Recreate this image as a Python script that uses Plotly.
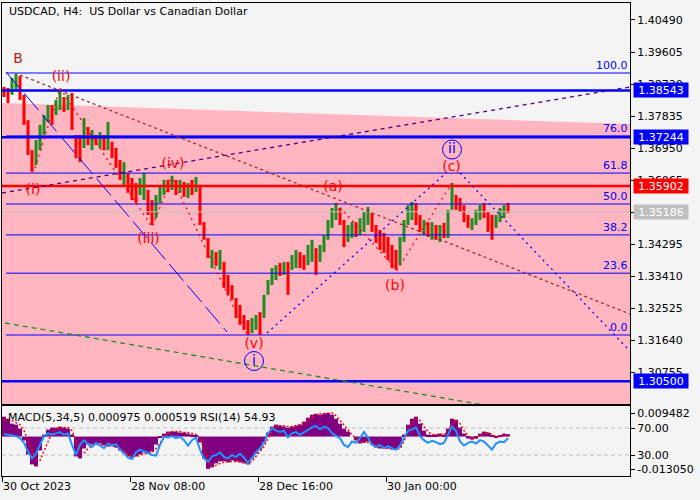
import plotly.graph_objects as go

# ---------------- data ----------------
time_ticks = [0, 128, 256, 384]
time_labels = ["30 Oct 2023", "28 Nov 08:00", "28 Dec 16:00", "30 Jan 00:00"]
price_ticks = [1.40490, 1.39605, 1.38720, 1.37835, 1.36950, 1.36065, 1.35180,
               1.34295, 1.33410, 1.32525, 1.31640, 1.30755]

first_open = 1.3861
high = [1.3864, 1.3861, 1.3889, 1.3900, 1.3894, 1.3842, 1.3772, 1.3689, 1.3717, 1.3759,
        1.3786, 1.3814, 1.3814, 1.3828, 1.3855, 1.3836, 1.3842, 1.3847, 1.3731, 1.3731,
        1.3778, 1.3753, 1.3745, 1.3731, 1.3739, 1.3731, 1.3767, 1.3712, 1.3695, 1.3662,
        1.3656, 1.3626, 1.3612, 1.3598, 1.3612, 1.3626, 1.3579, 1.3551, 1.3565, 1.3587,
        1.3607, 1.3607, 1.3618, 1.3607, 1.3607, 1.3601, 1.3598, 1.3607, 1.3615, 1.3593,
        1.3490, 1.3446, 1.3413, 1.3407, 1.3413, 1.3380, 1.3344, 1.3316, 1.3280, 1.3261,
        1.3233, 1.3219, 1.3225, 1.3233, 1.3241, 1.3289, 1.3330, 1.3363, 1.3371, 1.3377,
        1.3380, 1.3380, 1.3399, 1.3413, 1.3407, 1.3399, 1.3427, 1.3441, 1.3418, 1.3427,
        1.3454, 1.3496, 1.3529, 1.3543, 1.3529, 1.3496, 1.3482, 1.3490, 1.3490, 1.3501,
        1.3518, 1.3532, 1.3515, 1.3482, 1.3468, 1.3460, 1.3449, 1.3427, 1.3413, 1.3449,
        1.3496, 1.3537, 1.3546, 1.3543, 1.3510, 1.3496, 1.3490, 1.3490, 1.3482, 1.3482,
        1.3488, 1.3524, 1.3598, 1.3565, 1.3557, 1.3537, 1.3510, 1.3501, 1.3524, 1.3537,
        1.3543, 1.3518, 1.3510, 1.3510, 1.3529, 1.3537, 1.3543]
low = [1.3836, 1.3819, 1.3842, 1.3855, 1.3828, 1.3759, 1.3676, 1.3629, 1.3648, 1.3689,
       1.3731, 1.3767, 1.3759, 1.3786, 1.3800, 1.3795, 1.3800, 1.3745, 1.3667, 1.3656,
       1.3695, 1.3703, 1.3689, 1.3703, 1.3695, 1.3689, 1.3689, 1.3667, 1.3640, 1.3607,
       1.3593, 1.3571, 1.3551, 1.3543, 1.3565, 1.3551, 1.3510, 1.3482, 1.3501, 1.3543,
       1.3565, 1.3573, 1.3579, 1.3565, 1.3571, 1.3560, 1.3557, 1.3565, 1.3573, 1.3482,
       1.3441, 1.3391, 1.3363, 1.3369, 1.3358, 1.3308, 1.3289, 1.3275, 1.3225, 1.3206,
       1.3192, 1.3178, 1.3183, 1.3192, 1.3178, 1.3225, 1.3289, 1.3316, 1.3330, 1.3341,
       1.3344, 1.3289, 1.3358, 1.3363, 1.3363, 1.3358, 1.3371, 1.3380, 1.3344, 1.3380,
       1.3407, 1.3441, 1.3474, 1.3496, 1.3482, 1.3421, 1.3435, 1.3446, 1.3449, 1.3454,
       1.3463, 1.3482, 1.3463, 1.3432, 1.3413, 1.3405, 1.3385, 1.3363, 1.3358, 1.3371,
       1.3435, 1.3482, 1.3496, 1.3482, 1.3463, 1.3454, 1.3449, 1.3441, 1.3441, 1.3435,
       1.3446, 1.3446, 1.3524, 1.3524, 1.3518, 1.3490, 1.3474, 1.3468, 1.3482, 1.3496,
       1.3501, 1.3463, 1.3441, 1.3474, 1.3490, 1.3501, 1.3515]
close = [1.3842, 1.3828, 1.3883, 1.3894, 1.3836, 1.3767, 1.3684, 1.3640, 1.3709, 1.3750,
         1.3778, 1.3806, 1.3772, 1.3819, 1.3842, 1.3806, 1.3833, 1.3753, 1.3676, 1.3667,
         1.3767, 1.3712, 1.3736, 1.3709, 1.3731, 1.3698, 1.3717, 1.3676, 1.3648, 1.3615,
         1.3648, 1.3579, 1.3560, 1.3551, 1.3604, 1.3618, 1.3518, 1.3490, 1.3557, 1.3579,
         1.3598, 1.3579, 1.3612, 1.3573, 1.3601, 1.3565, 1.3593, 1.3571, 1.3607, 1.3490,
         1.3449, 1.3399, 1.3407, 1.3377, 1.3405, 1.3316, 1.3297, 1.3280, 1.3233, 1.3214,
         1.3200, 1.3186, 1.3219, 1.3228, 1.3219, 1.3280, 1.3322, 1.3355, 1.3363, 1.3346,
         1.3374, 1.3352, 1.3391, 1.3405, 1.3371, 1.3363, 1.3418, 1.3432, 1.3391, 1.3418,
         1.3446, 1.3488, 1.3521, 1.3535, 1.3490, 1.3430, 1.3441, 1.3482, 1.3457, 1.3493,
         1.3510, 1.3524, 1.3471, 1.3441, 1.3421, 1.3413, 1.3393, 1.3371, 1.3366, 1.3441,
         1.3488, 1.3529, 1.3537, 1.3490, 1.3471, 1.3490, 1.3457, 1.3482, 1.3449, 1.3474,
         1.3454, 1.3515, 1.3584, 1.3532, 1.3524, 1.3496, 1.3479, 1.3496, 1.3518, 1.3532,
         1.3507, 1.3471, 1.3463, 1.3501, 1.3524, 1.3532, 1.3519]

macd = [0.0080, 0.0072, 0.0052, 0.0048, 0.0032, -0.0016, -0.0072, -0.0112, -0.0120, -0.0056,
        0.0008, 0.0028, 0.0036, 0.0036, 0.0040, 0.0036, 0.0032, 0.0008, -0.0080, -0.0088,
        -0.0048, -0.0028, -0.0032, -0.0032, -0.0028, -0.0036, -0.0040, -0.0032, -0.0044, -0.0056,
        -0.0068, -0.0080, -0.0084, -0.0080, -0.0072, -0.0064, -0.0068, -0.0060, -0.0032, -0.0004,
        0.0012, 0.0020, 0.0020, 0.0020, 0.0016, 0.0016, 0.0012, 0.0008, 0.0004, -0.0024,
        -0.0088, -0.0130, -0.0124, -0.0108, -0.0100, -0.0100, -0.0104, -0.0096, -0.0100, -0.0104,
        -0.0108, -0.0112, -0.0088, -0.0068, -0.0052, -0.0024, 0.0016, 0.0040, 0.0048, 0.0044,
        0.0040, 0.0036, 0.0040, 0.0044, 0.0048, 0.0060, 0.0076, 0.0088, 0.0092, 0.0088,
        0.0092, 0.0095, 0.0088, 0.0072, 0.0052, 0.0032, 0.0020, 0.0000, -0.0016, -0.0028,
        -0.0024, -0.0020, -0.0032, -0.0044, -0.0048, -0.0044, -0.0048, -0.0052, -0.0052, -0.0044,
        0.0008, 0.0048, 0.0072, 0.0080, 0.0052, 0.0024, 0.0008, 0.0004, 0.0008, 0.0012,
        0.0008, 0.0032, 0.0072, 0.0068, 0.0036, 0.0012, -0.0008, -0.0012, -0.0008, 0.0012,
        0.0020, 0.0016, 0.0004, -0.0004, 0.0004, 0.0012, 0.000975]
signal = [0.0064, 0.0068, 0.0064, 0.0056, 0.0048, 0.0024, -0.0016, -0.0056, -0.0096, -0.0096,
          -0.0056, -0.0016, 0.0016, 0.0032, 0.0036, 0.0036, 0.0036, 0.0024, -0.0016, -0.0056,
          -0.0068, -0.0048, -0.0036, -0.0032, -0.0032, -0.0032, -0.0036, -0.0036, -0.0040, -0.0048,
          -0.0060, -0.0072, -0.0080, -0.0080, -0.0076, -0.0068, -0.0068, -0.0064, -0.0048, -0.0024,
          -0.0004, 0.0012, 0.0020, 0.0020, 0.0020, 0.0016, 0.0016, 0.0012, 0.0008, -0.0008,
          -0.0048, -0.0096, -0.0120, -0.0116, -0.0108, -0.0104, -0.0100, -0.0100, -0.0100, -0.0100,
          -0.0104, -0.0108, -0.0100, -0.0080, -0.0060, -0.0040, -0.0008, 0.0020, 0.0040, 0.0044,
          0.0044, 0.0040, 0.0040, 0.0044, 0.0048, 0.0052, 0.0064, 0.0076, 0.0088, 0.0092,
          0.0092, 0.0095, 0.0095, 0.0084, 0.0064, 0.0044, 0.0024, 0.0008, -0.0008, -0.0020,
          -0.0024, -0.0024, -0.0028, -0.0036, -0.0044, -0.0044, -0.0048, -0.0048, -0.0052, -0.0048,
          -0.0020, 0.0020, 0.0052, 0.0072, 0.0064, 0.0040, 0.0020, 0.0008, 0.0008, 0.0008,
          0.0008, 0.0020, 0.0052, 0.0068, 0.0052, 0.0024, 0.0004, -0.0008, -0.0008, 0.0004,
          0.0012, 0.0016, 0.0008, 0.0000, 0.0000, 0.0004, 0.000519]
rsi = [61, 60, 58, 58, 55, 48, 35, 25, 32, 45,
       58, 62, 60, 62, 64, 60, 62, 45, 30, 45,
       52, 46, 42, 48, 44, 40, 47, 44, 46, 38,
       33, 26, 24, 34, 38, 36, 33, 30, 29, 45,
       57, 56, 58, 55, 57, 52, 44, 52, 56, 38,
       25, 20, 28, 30, 34, 27, 25, 30, 27, 32,
       26, 18, 26, 34, 40, 48, 62, 70, 66, 64,
       66, 56, 62, 64, 60, 64, 68, 71, 73, 68,
       72, 70, 62, 58, 55, 45, 42, 50, 48, 55,
       64, 56, 45, 42, 45, 40, 43, 40, 38, 44,
       55, 66, 68, 71, 58, 52, 48, 51, 49, 46,
       48, 60, 72, 66, 50, 44, 48, 50, 47, 52,
       50, 44, 38, 47, 50, 49, 54.93]
rsi_levels = [70, 30]
macd_scale_labels = [0.009482, -0.013050]

fib_high = 1.39024
fib_low = 1.31778
fib_levels = [100.0, 76.0, 61.8, 50.0, 38.2, 23.6, 0.0]
blue_levels = [1.38543, 1.37244, 1.30500]
red_levels = [1.35902]
last_price = 1.35186

zone_x = [0, 628]
zone_top = [1.38194, 1.37614]
zone_bottom = 1.2900

impulse_channel_x = [4, 225]
impulse_channel_p = [1.39052, 1.31861]
rise_line_x = [265, 445]
rise_line_p = [1.31834, 1.36286]
target_line_x = [458, 625]
target_line_p = [1.36259, 1.31419]
brown_line_x = [18, 628]
brown_line_p = [1.38969, 1.32359]
purple_line_x = [0, 628]
purple_line_p = [1.35705, 1.38637]
green_line_x = [3, 628]
green_line_p = [1.32110, 1.29151]
impulse_path_x = [33, 58, 150, 170, 244]
impulse_path_p = [1.36397, 1.38609, 1.34765, 1.36120, 1.31834]
abc_path_x = [334, 395, 450]
abc_path_p = [1.35429, 1.33576, 1.35982]

wave_text = ["B", "(ii)", "(i)", "(iii)", "(iv)", "(v)", "(a)", "(b)", "(c)"]
wave_x = [16, 59, 31, 146.5, 171, 252, 331, 393, 449.5]
wave_p = [1.39411, 1.38900, 1.35788, 1.34406, 1.36494, 1.31502, 1.35871, 1.33106, 1.36411]
circled_text = ["i", "ii"]
circled_x = [252, 450]
circled_p = [1.31059, 1.36908]

# ---------------- figure ----------------
BLUE = "#0000FF"
RED = "#FF0000"
UP = "#228B22"
XMAX = 628

fig = go.Figure()

# pink zone (drawn first, under everything)
fig.add_trace(go.Scatter(
    x=[zone_x[0], zone_x[1], zone_x[1], zone_x[0]],
    y=[zone_top[0], zone_top[1], zone_bottom, zone_bottom],
    fill="toself", fillcolor="#FFB6C1", mode="lines", line=dict(width=0),
    hoverinfo="skip", xaxis="x", yaxis="y"))

# candles as high-low segments, split by direction
n = min(len(high), len(low), len(close))
opens = [first_open] + close[:n - 1]
seg = {True: ([], []), False: ([], [])}
for i in range(n):
    up = close[i] >= opens[i]
    xi = 2 + 4 * i
    seg[up][0].extend([xi, xi, None])
    seg[up][1].extend([low[i], high[i], None])
for up, col in ((True, UP), (False, RED)):
    fig.add_trace(go.Scatter(x=seg[up][0], y=seg[up][1], mode="lines",
                             line=dict(color=col, width=3),
                             xaxis="x", yaxis="y", hoverinfo="skip"))

def hline(p, x0, color, width, dash="solid"):
    fig.add_trace(go.Scatter(x=[x0, XMAX], y=[p, p], mode="lines",
                             line=dict(color=color, width=width, dash=dash),
                             xaxis="x", yaxis="y", hoverinfo="skip"))

fib_prices = [fib_low + lv / 100.0 * (fib_high - fib_low) for lv in fib_levels]
for p in fib_prices:
    hline(p, 4, BLUE, 1)
hline(last_price, 0, "#C0C0C0", 1)
for p in blue_levels:
    hline(p, 0, BLUE, 2.5)
for p in red_levels:
    hline(p, 0, RED, 2.5)

def tline(xs, ps, color, dash, width=1):
    fig.add_trace(go.Scatter(x=xs, y=ps, mode="lines",
                             line=dict(color=color, width=width, dash=dash),
                             xaxis="x", yaxis="y", hoverinfo="skip"))

tline(impulse_channel_x, impulse_channel_p, BLUE, "22px,6px")
tline(rise_line_x, rise_line_p, BLUE, "2px,4px", 1.3)
tline(target_line_x, target_line_p, BLUE, "2px,4px", 1.3)
tline(brown_line_x, brown_line_p, "#A52A2A", "3px,3px", 1.3)
tline(purple_line_x, purple_line_p, "#4B0082", "4px,4px", 1.3)
tline(green_line_x, green_line_p, "#228B22", "5px,4px", 1.3)
tline(impulse_path_x, impulse_path_p, RED, "2px,4px", 1.3)
tline(abc_path_x, abc_path_p, RED, "2px,4px", 1.3)

# wave labels
wave_colors = ["#B22222"] + [RED] * (len(wave_text) - 1)
fig.add_trace(go.Scatter(
    x=wave_x, y=wave_p, mode="text", text=wave_text,
    textfont=dict(family="DejaVu Sans", size=14, color=wave_colors),
    textposition="middle center", cliponaxis=False,
    xaxis="x", yaxis="y", hoverinfo="skip"))
fig.add_trace(go.Scatter(
    x=circled_x, y=circled_p, mode="markers+text", text=circled_text,
    marker=dict(symbol="circle-open", size=19, color=BLUE, line=dict(width=1)),
    textfont=dict(family="DejaVu Sans", size=14, color=BLUE),
    textposition="middle center", cliponaxis=False,
    xaxis="x", yaxis="y", hoverinfo="skip"))

# indicator panel
m = len(macd)
ind_x = [2 + 4 * i for i in range(m)]
fig.add_trace(go.Bar(x=ind_x, y=macd, width=4,
                     marker=dict(color="#800080", line=dict(width=0)),
                     xaxis="x2", yaxis="y2", hoverinfo="skip"))
fig.add_trace(go.Scatter(x=[2 + 4 * i for i in range(len(signal))], y=signal, mode="lines",
                         line=dict(color=RED, width=1.5, dash="2px,2px"),
                         xaxis="x2", yaxis="y2", hoverinfo="skip"))
fig.add_trace(go.Scatter(x=[2 + 4 * i for i in range(len(rsi))], y=rsi, mode="lines",
                         line=dict(color="#1E90FF", width=2),
                         xaxis="x2", yaxis="y3", hoverinfo="skip"))

shapes = []
for lv in rsi_levels:
    shapes.append(dict(type="line", xref="x2 domain", x0=0, x1=1, yref="y3", y0=lv, y1=lv,
                       line=dict(color="#C0C0C0", width=1, dash="4px,3px"), layer="below"))

annotations = []
annotations.append(dict(xref="paper", yref="paper", x=0.008, y=0.981, xanchor="left",
                        yanchor="middle", showarrow=False,
                        text="USDCAD, H4:\u00a0 US Dollar vs Canadian Dollar",
                        font=dict(size=11, color="black")))
annotations.append(dict(xref="paper", yref="paper", x=0.0064, y=0.1247, xanchor="left",
                        yanchor="middle", showarrow=False,
                        text=f"MACD(5,34,5) {macd[-1]:.6f} {signal[-1]:.6f} RSI(14) {rsi[-1]:.2f}",
                        font=dict(size=11, color="black")))
for lv, p in zip(fib_levels, fib_prices):
    annotations.append(dict(xref="x", yref="y", x=627, y=p, xanchor="right", yanchor="bottom",
                            showarrow=False, text=f"{lv:.1f}", borderpad=0,
                            font=dict(size=11, color=BLUE)))
boxes = [(p, BLUE) for p in blue_levels] + [(p, RED) for p in red_levels] + [(last_price, "#C0C0C0")]
for p, col in boxes:
    annotations.append(dict(xref="paper", yref="y", x=1, xshift=3, y=p, xanchor="left",
                            yanchor="middle", showarrow=False, text=f"{p:.5f}",
                            bgcolor=col, width=54, height=14, borderpad=0, align="center",
                            font=dict(size=11, color="white")))

axis_common = dict(showgrid=False, zeroline=False, linecolor="black", linewidth=1,
                   tickcolor="black", tickfont=dict(size=11, color="black"))

fig.update_layout(
    width=700, height=500,
    margin=dict(l=2, r=70, t=3, b=24),
    paper_bgcolor="#F4F4F4", plot_bgcolor="#F4F4F4",
    showlegend=False, barmode="overlay",
    font=dict(family="DejaVu Sans", size=11, color="black"),
    xaxis=dict(domain=[0, 1], range=[0, XMAX], anchor="y", showticklabels=False, ticks="",
               showline=True, mirror=True, **axis_common),
    yaxis=dict(domain=[0.15222, 1], range=[1.29870, 1.40960], side="right", anchor="x",
               tickvals=price_ticks, ticktext=[f"{v:.5f}" for v in price_ticks],
               ticks="outside", ticklen=4, showline=True, mirror=True, **axis_common),
    xaxis2=dict(domain=[0, 1], range=[0, XMAX], anchor="y2", tickvals=time_ticks,
                ticktext=time_labels, ticks="outside", ticklen=5,
                ticklabelposition="outside right", showline=True, mirror=True, **axis_common),
    yaxis2=dict(domain=[0, 0.14799], range=[-0.015867, 0.012298], side="right", anchor="x2",
                tickvals=macd_scale_labels, ticktext=[f"{v:.6f}" for v in macd_scale_labels],
                ticks="outside", ticklen=4, showline=True, mirror=True, **axis_common),
    yaxis3=dict(overlaying="y2", range=[-1.11, 102.59], side="right", anchor="x2",
                tickvals=rsi_levels, ticktext=[f"{v:.2f}" for v in rsi_levels],
                ticks="outside", ticklen=4, showline=False, **axis_common),
    shapes=shapes,
    annotations=annotations,
)

fig.write_html("out.html")
